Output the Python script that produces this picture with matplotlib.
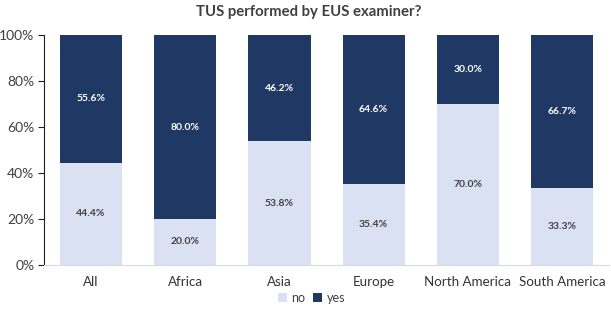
import matplotlib.pyplot as plt
import numpy as np

plt.rcParams["font.family"] = ["Lato", "DejaVu Sans"]

regions = ["All", "Africa", "Asia", "Europe", "North America", "South America"]
no_vals = np.array([44.4, 20.0, 53.8, 35.4, 70.0, 33.3])
yes_vals = np.array([55.6, 80.0, 46.2, 64.6, 30.0, 66.7])

c_no = "#D9E1F2"
c_yes = "#1F3864"

fig = plt.figure(figsize=(6.11, 3.25), dpi=100)
ax = fig.add_axes([0.072, 0.185, 0.925, 0.707])

x = np.arange(len(regions))
ax.bar(x, no_vals, width=0.66, color=c_no, label="no")
ax.bar(x, yes_vals, width=0.66, bottom=no_vals, color=c_yes, label="yes")

for i in x:
    ax.text(i, no_vals[i] / 2, f"{no_vals[i]:.1f}%", ha="center", va="center",
            fontsize=7.5, fontweight="bold", color="#404040")
    ax.text(i, no_vals[i] + yes_vals[i] / 2, f"{yes_vals[i]:.1f}%", ha="center",
            va="center", fontsize=7.5, fontweight="bold", color="white")

ax.set_xlim(-0.5, 5.5)
ax.set_ylim(0, 100)
ax.set_yticks(np.arange(0, 101, 20))
ax.set_yticklabels([f"{v}%" for v in range(0, 101, 20)], fontsize=10, color="#404040")
ax.set_xticks(x)
ax.set_xticklabels(regions, fontsize=9.6, color="#333333")
ax.tick_params(axis="x", length=0, pad=8)
ax.tick_params(axis="y", length=4, color="#202020", pad=3)

ax.spines["top"].set_visible(False)
ax.spines["right"].set_visible(False)
ax.spines["left"].set_color("#202020")
ax.spines["bottom"].set_color("#D9D9D9")

fig.text(0.506, 0.962, "TUS performed by EUS examiner?", ha="center", va="center",
         fontsize=10.7, fontweight="bold", color="#404040")

fig.legend(loc="center", bbox_to_anchor=(0.51, 0.083), ncol=2, frameon=False,
           fontsize=9, handlelength=0.7, handleheight=0.7, columnspacing=0.6,
           handletextpad=0.4, labelcolor="#404040")

fig.savefig("out.png", dpi=100)
